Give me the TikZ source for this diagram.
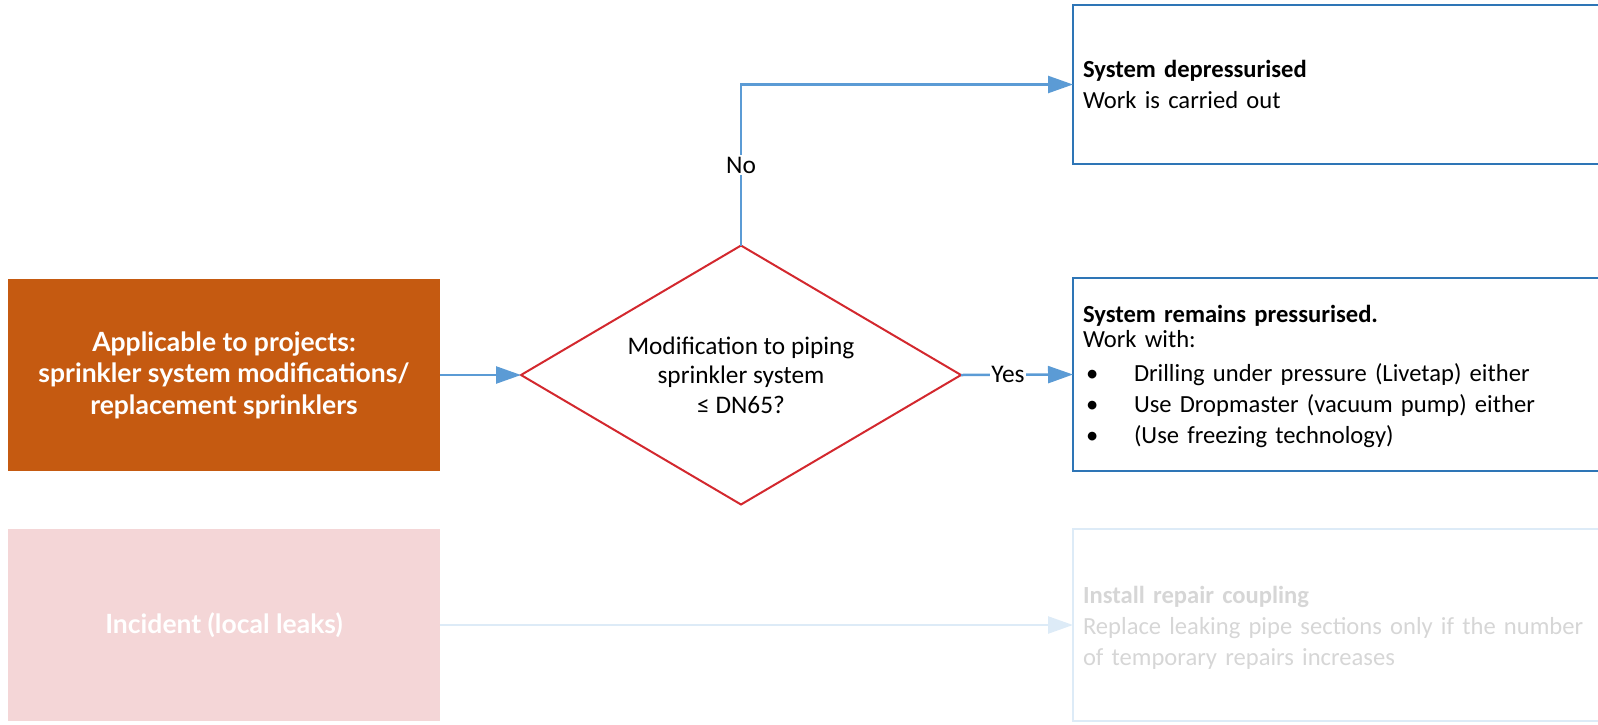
\documentclass[tikz,border=0pt]{standalone}
\usepackage{fontspec}
\setmainfont{Carlito}
\newfontfamily\hdfont{Lato}
\usetikzlibrary{shapes.geometric,arrows.meta}
\definecolor{projorange}{HTML}{C55A11}
\definecolor{incpink}{HTML}{F4D6D7}
\definecolor{lineblue}{HTML}{5B9BD5}
\definecolor{boxblue}{HTML}{2E75B6}
\definecolor{decred}{HTML}{D3282E}
\definecolor{fadeblue}{HTML}{DDEBF7}
\definecolor{fadegray}{HTML}{D6D6D6}
\newcommand\bul{\makebox[51pt][l]{\hspace{3pt}\textbullet}}
\begin{document}
\begin{tikzpicture}[x=1pt,y=-1pt,
  srcbox/.style={rectangle, minimum width=432pt, minimum height=192pt, inner sep=0pt, outer sep=0pt,
    align=center, text=white, font=\hdfont\bfseries\fontsize{26.5}{31.5}\selectfont},
  decision/.style={diamond, aspect=1.7, draw=decred, line width=2pt, minimum width=440pt, minimum height=259pt,
    inner sep=0pt, outer sep=0pt, align=center, font=\fontsize{25.3}{29.5}\selectfont},
  resbox/.style={rectangle, draw=boxblue, line width=2pt, anchor=west, minimum width=560pt,
    text width=540pt, inner xsep=5pt, inner ysep=0pt, outer sep=0pt, align=left,
    font=\fontsize{24.6}{31}\selectfont},
  flow/.style={draw=lineblue, line width=2.5pt, -{Triangle[length=25pt,width=17pt]}},
  lbl/.style={fill=white, inner sep=2pt, font=\fontsize{25.4}{30}\selectfont}
]
\useasboundingbox (0,0) rectangle (1598,724);
\clip (0,0) rectangle (1598,724);

\node[srcbox, fill=projorange] (proj) at (224,375)
  {Applicable to projects:\\sprinkler system modifications/\\replacement sprinklers};
\node[srcbox, fill=incpink] (inc) at (224,625) {Incident (local leaks)};

\node[decision] (dec) at (741,375)
  {Modification to piping\\sprinkler system\\≤ DN65?};

\node[resbox, minimum height=159pt] (dep) at (1073,84.5)
  {\textbf{System depressurised}\\Work is carried out};
\node[resbox, minimum height=193pt] (pres) at (1073,374.5)
  {\textbf{System remains pressurised.}\\[-6pt]Work with:\\[3pt]
   \bul Drilling under pressure (Livetap) either\\
   \bul Use Dropmaster (vacuum pump) either\\
   \bul (Use freezing technology)\\[-31pt]\mbox{}\par\vspace{19pt}};
\node[resbox, minimum height=192pt, draw=fadeblue, text=fadegray] (rep) at (1073,625)
  {\textbf{Install repair coupling}\\Replace leaking pipe sections only if the number\\of temporary repairs increases\par\vspace{-6pt}};

\draw[flow] (proj.east) -- (dec.west);
\draw[flow] (dec.north) |- node[lbl, pos=0.25] {No} (dep.west);
\draw[flow] (dec.east) -- node[lbl, pos=0.42, inner sep=1pt] {Yes} (pres.west);
\draw[flow, draw=fadeblue, fill=fadeblue] (inc.east) -- (rep.west);
\end{tikzpicture}
\end{document}
